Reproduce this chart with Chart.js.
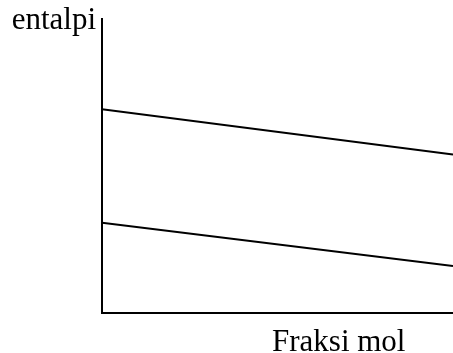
<!DOCTYPE html>
<html>
<head>
<meta charset="utf-8">
<script src="https://cdn.jsdelivr.net/npm/chart.js@4/dist/chart.umd.min.js"></script>
<style>
  html, body { margin: 0; padding: 0; background: #fff; }
  #wrap { width: 453px; height: 353px; position: relative; }
</style>
</head>
<body>
<div id="wrap"><canvas id="chart"></canvas></div>
<script>
const fraksiMol = [0, 1];
const entalpiAtas = [69.3, 53.9];
const entalpiBawah = [30.7, 16.0];
const yLabel = 'entalpi';
const xLabel = 'Fraksi mol';

const SERIF = '"Liberation Serif", "Times New Roman", serif';

// axis labels sit outside the plot, drawn next to the chart area
const axisLabels = {
    id: 'axisLabels',
    afterDraw(chart) {
        const { ctx, chartArea } = chart;
        ctx.save();
        ctx.fillStyle = '#000';
        ctx.font = '31px ' + SERIF;
        ctx.textBaseline = 'alphabetic';
        ctx.textAlign = 'right';
        ctx.fillText(yLabel, chartArea.left - 6, chartArea.top + 10);
        ctx.textAlign = 'left';
        ctx.fillText(xLabel, chartArea.left + 170, chartArea.bottom + 38);
        ctx.restore();
    }
};

const toPoints = (ys) => fraksiMol.map((x, i) => ({ x, y: ys[i] }));

new Chart(document.getElementById('chart'), {
    type: 'line',
    data: {
        datasets: [
            { data: toPoints(entalpiAtas), borderColor: '#000', borderWidth: 2, pointRadius: 0, fill: false },
            { data: toPoints(entalpiBawah), borderColor: '#000', borderWidth: 2, pointRadius: 0, fill: false }
        ]
    },
    options: {
        responsive: true,
        maintainAspectRatio: false,
        animation: false,
        layout: { padding: { left: 94, top: 19, right: 0, bottom: 32 } },
        plugins: { legend: { display: false }, tooltip: { enabled: false } },
        scales: {
            x: {
                type: 'linear', min: 0, max: 1,
                grid: { display: false },
                ticks: { display: false },
                border: { display: true, color: '#000', width: 2 }
            },
            y: {
                min: 0, max: 100,
                grid: { display: false },
                ticks: { display: false },
                border: { display: true, color: '#000', width: 2 }
            }
        }
    },
    plugins: [axisLabels]
});
</script>
</body>
</html>
